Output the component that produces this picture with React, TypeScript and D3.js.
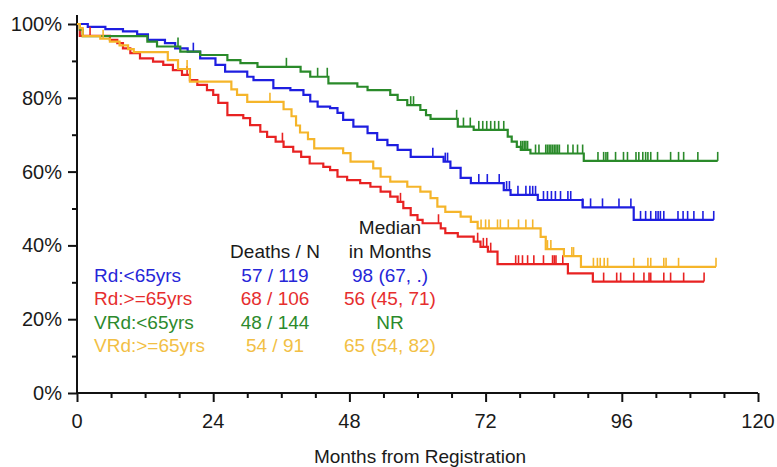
import * as d3 from 'd3'
import { useEffect, useRef } from 'react'

// Kaplan-Meier steps: [month, survival %]
const rdYoung = [
  [0, 100], [1.9, 99.2], [5, 98.6], [8.1, 98.0], [10.6, 97.2], [12.5, 95.7], [15.5, 94.8],
  [17.3, 93.4], [19.5, 92.5], [21.7, 90.7], [24.4, 88.9], [26.1, 87.1], [30, 85.7],
  [31.1, 84.8], [34.6, 82.6], [37.6, 82.1], [39.9, 80.8], [41.1, 79.0], [42.4, 77.6],
  [44.6, 77.2], [45.9, 75.9], [46.9, 74.0], [48.7, 72.2], [51.2, 70.4], [52.9, 68.6],
  [54.7, 67.2], [56.5, 65.9], [58.8, 64.0], [64.6, 62.7], [65.8, 61.0], [67.6, 58.3],
  [69.4, 56.9], [75.2, 55.0], [76.4, 53.7], [81.2, 52.3], [89.1, 50.3], [98.1, 46.9],
]
const rdOld = [
  [0, 100], [0.5, 96.8], [5.8, 95.7], [7.1, 94.8], [8.1, 93.4], [9.4, 92.1], [11.1, 90.7],
  [13.4, 89.8], [15.2, 88.9], [16.9, 87.5], [18.5, 86.2], [19.9, 84.8], [21.2, 83.5],
  [22.9, 82.1], [24, 80.8], [24.9, 78.6], [26.5, 75.3], [29.3, 74.5], [30.5, 72.6],
  [32.3, 70.8], [33.5, 69.4], [35, 68.1], [36.4, 66.7], [38.1, 65.4], [39.5, 64.0],
  [41, 62.2], [43.4, 61.3], [44.6, 60.4], [45.9, 58.6], [47.6, 57.7], [49.9, 56.9],
  [51.7, 55.9], [53.5, 54.6], [55.2, 53.2], [56.5, 51.8], [57.5, 50.1], [58.8, 48.2],
  [60, 46.9], [60.9, 46.0], [64.1, 44.6], [64.9, 43.3], [67.1, 42.4], [69.9, 41.0],
  [71.1, 39.6], [72.4, 38.3], [74.1, 34.9], [86.5, 32.4], [90.9, 30.2],
]
const vrdYoung = [
  [0, 100], [0.5, 98.5], [1, 96.7], [12.4, 95.2], [14.1, 93.9], [18.2, 92.5], [21.7, 91.6],
  [26.5, 90.2], [28.8, 89.4], [31.8, 88.4], [39.4, 87.1], [41.1, 85.7], [44.3, 83.9],
  [49.4, 83.0], [51.2, 82.1], [55.2, 80.8], [56.5, 79.4], [58.2, 78.0], [60.5, 76.7],
  [61.5, 75.3], [62.3, 74.3], [67.1, 72.2], [69.9, 71.3], [75.9, 69.5], [76.6, 68.1],
  [77.5, 66.7], [78.2, 65.9], [79.9, 64.9], [89.3, 62.9],
]
const vrdOld = [
  [0, 100], [0.5, 98.9], [1, 96.7], [4.1, 96.0], [5.8, 95.2], [7.5, 94.2], [9, 93.2],
  [10, 92.4], [16, 90.2], [17.8, 87.8], [19.9, 84.4], [27.2, 82.3], [28.2, 80.8],
  [30, 78.9], [36.4, 76.9], [37.8, 75.0], [38.6, 72.5], [39.3, 70.6], [40.7, 68.8],
  [41.8, 66.3], [46.9, 65.0], [48.2, 62.7], [52.2, 60.9], [53.5, 58.6], [55.2, 57.3],
  [58.2, 55.9], [60.5, 54.6], [62.3, 52.8], [63.5, 50.5], [64.9, 49.1], [67.6, 47.8],
  [69.4, 46.4], [70.6, 44.6], [81.7, 42.3], [82.6, 39.0], [85.8, 37.1], [88.8, 34.2],
]

// last follow-up month of each curve
const lastMonth = [112.2, 110.5, 112.9, 112.6]

// censoring times (months)
const rdYoungCens = [20.5, 62.7, 64.9, 65.3, 70.8, 72.3, 74.4, 75.7, 76.2, 77.7, 79.1, 79.8, 80.3,
  80.8, 82.2, 82.9, 83.6, 84.3, 85.2, 86.5, 87.0, 89.1, 90.5, 92.6, 95.5, 97.6, 99.3, 100.2,
  101.1, 102.0, 102.4, 102.8, 103.4, 105.9, 106.8, 107.6, 108.7, 110.3, 112.2]
const rdOldCens = [2.3, 19.4, 36.2, 57.0, 63.7, 70.6, 71.6, 72.2, 72.9, 77.3, 77.8, 78.5, 79.4,
  80.5, 82.2, 83.8, 84.1, 84.4, 85.6, 92.8, 95.1, 95.8, 98.1, 99.9, 100.8, 101.1, 103.4, 104.6,
  106.9, 110.5]
const vrdYoungCens = [17.8, 36.9, 42.4, 44.1, 58.8, 59.3, 66.9, 68.1, 69.3, 70.8, 71.5, 72.2,
  72.9, 73.6, 74.3, 75.2, 78.2, 78.5, 78.8, 79.1, 79.4, 80.8, 81.4, 82.6, 82.9, 83.2, 83.5,
  83.8, 84.1, 84.4, 84.7, 85.0, 86.5, 87.4, 88.2, 89.1, 91.8, 92.8, 93.2, 93.5, 94.9, 96.3,
  97.0, 98.5, 99.0, 99.7, 100.2, 100.6, 101.1, 102.3, 104.6, 106.0, 106.9, 109.4, 112.9]
const vrdOldCens = [4.6, 19.4, 34.0, 71.2, 72.0, 72.6, 74.1, 74.6, 76.0, 77.8, 79.1, 80.3, 82.9,
  83.5, 87.2, 87.5, 91.0, 91.7, 92.2, 92.9, 93.5, 98.1, 100.6, 101.1, 103.4, 103.8, 106.0, 112.6]

const groups = ['Rd:<65yrs', 'Rd:>=65yrs', 'VRd:<65yrs', 'VRd:>=65yrs']
const deathsN = ['57 / 119', '68 / 106', '48 / 144', '54 / 91']
const medians = ['98 (67, .)', '56 (45, 71)', 'NR', '65 (54, 82)']
const xTicks = [0, 24, 48, 72, 96, 120]
const yTicks = [0, 20, 40, 60, 80, 100]

const curves = [rdYoung, rdOld, vrdYoung, vrdOld]
const censors = [rdYoungCens, rdOldCens, vrdYoungCens, vrdOldCens]
const colors = ['#1e1ee0', '#e82222', '#2a8a2a', '#f5b52a']
const textColors = ['#2626d8', '#e62e2e', '#2c8a2c', '#f2bf45']

const font = '"Liberation Sans", Arial, sans-serif'

export default function App() {
  const ref = useRef(null)

  useEffect(() => {
    const svg = d3.select(ref.current)
    svg.selectAll('*').remove()

    const x = d3.scaleLinear().domain([0, 120]).range([77, 758])
    const y = d3.scaleLinear().domain([0, 100]).range([393, 24])

    // axes
    const yAxis = svg.append('g').attr('transform', 'translate(77,0)')
    yAxis.call(d3.axisLeft(y).tickValues(d3.range(0, 101, 10)).tickSize(5).tickFormat(() => ''))
    yAxis.selectAll('.tick').filter((d) => d % 20 === 0).select('line').attr('x2', -9)
    yAxis.select('.domain').attr('d', `M0,${y(0)}V15`)
    yAxis.selectAll('line, path').attr('stroke', '#111').attr('stroke-width', 2)

    const xAxis = svg.append('g').attr('transform', `translate(0,${y(0)})`)
    xAxis.call(d3.axisBottom(x).tickValues(d3.range(0, 121, 6)).tickSize(5).tickFormat(() => ''))
    xAxis.selectAll('.tick').filter((d) => d % 24 === 0).select('line').attr('y2', 9)
    xAxis.select('.domain').attr('d', `M${x(0)},0H${x(120)}`)
    xAxis.selectAll('line, path').attr('stroke', '#111').attr('stroke-width', 2)

    svg.append('g')
      .selectAll('text')
      .data(yTicks)
      .join('text')
      .attr('x', 62)
      .attr('y', (d) => y(d) + 7)
      .attr('text-anchor', 'end')
      .attr('font-size', 20)
      .attr('fill', '#1a1a1a')
      .text((d) => `${d}%`)

    svg.append('g')
      .selectAll('text')
      .data(xTicks)
      .join('text')
      .attr('x', (d) => x(d))
      .attr('y', 428)
      .attr('text-anchor', 'middle')
      .attr('font-size', 20)
      .attr('fill', '#1a1a1a')
      .text((d) => d)

    svg.append('text')
      .attr('x', 420)
      .attr('y', 463)
      .attr('text-anchor', 'middle')
      .attr('font-size', 19)
      .attr('fill', '#1a1a1a')
      .text('Months from Registration')

    // curves
    const line = d3.line().x((d) => x(d[0])).y((d) => y(d[1])).curve(d3.curveStepAfter)
    const survAt = (c, t) => {
      let s = c[0][1]
      for (const p of c) if (p[0] <= t) s = p[1]
      return s
    }

    curves.forEach((c, i) => {
      const pts = [...c, [lastMonth[i], c[c.length - 1][1]]]
      svg.append('path')
        .attr('d', line(pts))
        .attr('fill', 'none')
        .attr('stroke', colors[i])
        .attr('stroke-width', 2.2)
      svg.append('g')
        .selectAll('line')
        .data(censors[i])
        .join('line')
        .attr('x1', (t) => x(t))
        .attr('x2', (t) => x(t))
        .attr('y1', (t) => y(survAt(c, t)))
        .attr('y2', (t) => y(survAt(c, t)) - 9)
        .attr('stroke', colors[i])
        .attr('stroke-width', 1.6)
    })

    // legend table
    const head = svg.append('g').attr('font-size', 19).attr('fill', '#1a1a1a').attr('text-anchor', 'middle')
    head.append('text').attr('x', 275).attr('y', 258).text('Deaths / N')
    head.append('text').attr('x', 390).attr('y', 234).text('Median')
    head.append('text').attr('x', 390).attr('y', 258).text('in Months')

    const rows = [282, 305, 329, 352]
    const tbl = svg.append('g').attr('font-size', 19)
    groups.forEach((g, i) => {
      tbl.append('text').attr('x', 94).attr('y', rows[i]).attr('fill', textColors[i]).text(g)
      tbl.append('text').attr('x', 275).attr('y', rows[i]).attr('fill', textColors[i])
        .attr('text-anchor', 'middle').text(deathsN[i])
      tbl.append('text').attr('x', 390).attr('y', rows[i]).attr('fill', textColors[i])
        .attr('text-anchor', 'middle').text(medians[i])
    })
  }, [])

  return (
    <svg
      ref={ref}
      width={777}
      height={467}
      style={{ position: 'absolute', left: 0, top: 0, background: '#fff', fontFamily: font }}
    />
  )
}
